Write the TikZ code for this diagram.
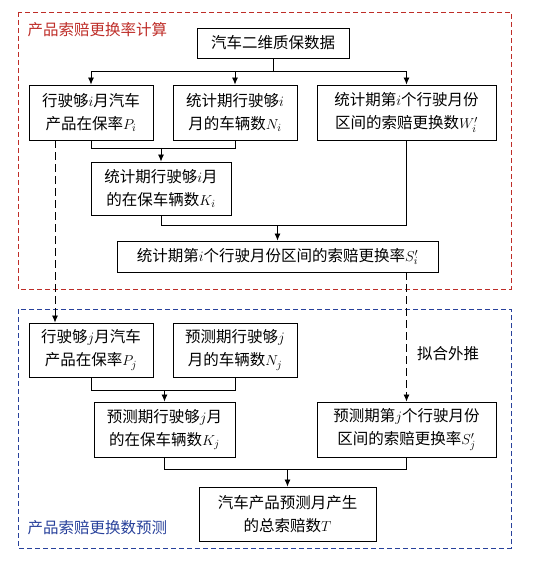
\documentclass[tikz,border=0pt]{standalone}
\usepackage{fontspec}
\newfontfamily\cjk{Noto Sans CJK SC}
\usetikzlibrary{arrows.meta}
\definecolor{framered}{RGB}{190,45,40}
\definecolor{frameblue}{RGB}{40,65,155}

\begin{document}
\begin{tikzpicture}[x=1pt,y=-1pt,
  box/.style={draw,line width=0.9pt,align=center,inner sep=2pt,font=\cjk\fontsize{15.5}{23}\selectfont},
  arr/.style={line width=0.8pt,-{Latex[length=7pt,width=6pt]}},
  link/.style={line width=0.8pt},
  darr/.style={arr,dash pattern=on 8pt off 4pt},
  frame/.style={line width=0.8pt,dash pattern=on 5pt off 3pt},
  tag/.style={font=\cjk\fontsize{15.5}{19}\selectfont,anchor=west}]
\useasboundingbox (0,0) rectangle (535,561);

% frames
\draw[frame,framered] (18,12) rectangle (511,289);
\draw[frame,frameblue] (18,309) rectangle (511,548);
\node[tag,text=framered] (redtag) at (24,30) {产品索赔更换率计算};
\node[tag,text=frameblue] (bluetag) at (24,528) {产品索赔更换数预测};

% upper part
\node[box,minimum width=152pt,minimum height=30pt] (data) at (273,43) {汽车二维质保数据};
\node[box,minimum width=124pt,minimum height=55pt] (Pi) at (91,112.5) {行驶够$i$月汽车\\产品在保率$P_i$};
\node[box,minimum width=124pt,minimum height=55pt] (Ni) at (235,112.5) {统计期行驶够$i$\\月的车辆数$N_i$};
\node[box,minimum width=179pt,minimum height=55pt] (Wi) at (406.5,112.5) {统计期第$i$个行驶月份\\区间的索赔更换数$W'_i$};
\node[box,minimum width=140pt,minimum height=53pt] (Ki) at (161,188.5) {统计期行驶够$i$月\\的在保车辆数$K_i$};
\node[box,minimum width=321pt,minimum height=31pt] (Si) at (277.5,256.5) {统计期第$i$个行驶月份区间的索赔更换率$S'_i$};

\coordinate (b1) at (273,71);
\coordinate (m1) at (161,148);
\coordinate (m2) at (277.5,225);
\draw[link] (data.south) -- (b1);
\draw[arr] (b1) -| (Pi.north);
\draw[arr] (b1) -| (Wi.north);
\draw[arr] (b1 -| Ni.north) -- (Ni.north);
\draw[link] (Pi.south) |- (m1 -| Ni.south) -- (Ni.south);
\draw[arr] (m1) -- (Ki.north);
\draw[link] (Ki.south) |- (m2 -| Wi.south) -- (Wi.south);
\draw[arr] (m2) -- (Si.north);

% lower part
\node[box,minimum width=124pt,minimum height=54pt] (Pj) at (91,350) {行驶够$j$月汽车\\产品在保率$P_j$};
\node[box,minimum width=124pt,minimum height=54pt] (Nj) at (235,350) {预测期行驶够$j$\\月的车辆数$N_j$};
\node[box,minimum width=141pt,minimum height=55pt] (Kj) at (164.5,429.5) {预测期行驶够$j$月\\的在保车辆数$K_j$};
\node[box,minimum width=179pt,minimum height=55pt] (Sj) at (406.5,429.5) {预测期第$j$个行驶月份\\区间的索赔更换率$S'_j$};
\node[box,minimum width=177pt,minimum height=54pt] (T) at (287.5,514) {汽车产品预测月产生\\的总索赔数$T$};

\coordinate (m3) at (164.5,390);
\coordinate (m4) at (287.5,469);
\draw[darr] ([xshift=-36pt]Pi.south) -- ([xshift=-36pt]Pj.north);
\draw[darr] (Si.south -| Sj.north) -- (Sj.north);
\node[tag,anchor=center] (fit) at (448,354) {拟合外推};
\draw[link] (Pj.south) |- (m3 -| Nj.south) -- (Nj.south);
\draw[arr] (m3) -- (Kj.north);
\draw[link] (Kj.south) |- (m4 -| Sj.south) -- (Sj.south);
\draw[arr] (m4) -- (T.north);

\end{tikzpicture}
\end{document}
